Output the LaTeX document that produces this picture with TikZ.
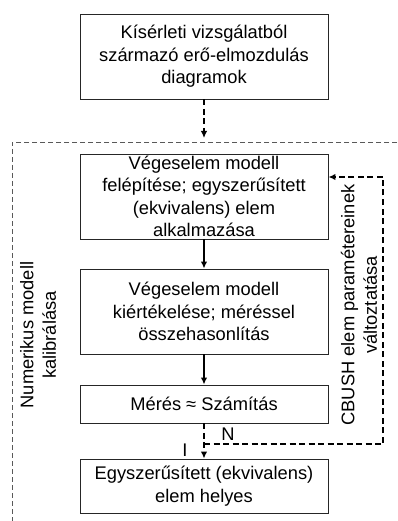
\documentclass[tikz,border=0pt]{standalone}
\usepackage{fontspec}
\setmainfont{Liberation Sans}
\usetikzlibrary{arrows.meta}
\begin{document}
\begin{tikzpicture}[x=1pt,y=-1pt,
  box/.style={draw=black!85,line width=0.9pt,minimum width=248pt,inner sep=0pt,align=center,font=\fontsize{18.3}{22.5}\selectfont},
  lbl/.style={align=center,font=\fontsize{18.3}{22.5}\selectfont,inner sep=0pt},
  thickdash/.style={line width=2.2pt,dash pattern=on 6pt off 3.5pt},
  arr/.style={-{Latex[length=7pt,width=6.5pt]}},
  frame/.style={draw=black!65,line width=0.6pt,dash pattern=on 5pt off 3pt}]
\useasboundingbox (0,0) rectangle (397,521);
\draw[frame] (397,142) -- (12,142) -- (12,521);
\node[box,minimum height=85pt] (b1) at (204,56.5) {Kísérleti vizsgálatból\\származó erő-elmozdulás\\diagramok};
\node[box,minimum height=85pt] (b2) at (204,196.5) {Végeselem modell\\felépítése; egyszerűsített\\(ekvivalens) elem\\alkalmazása};
\node[box,minimum height=85pt] (b3) at (204,311.5) {Végeselem modell\\kiértékelése; méréssel\\összehasonlítás};
\node[box,minimum height=38pt] (b4) at (204,404) {Mérés ≈ Számítás};
\node[box,minimum height=54pt] (b5) at (204,486) {Egyszerűsített (ekvivalens)\\elem helyes};
\coordinate (bt) at (204,138);
\draw[thickdash,arr] (b1.south) -- (bt);
\draw[line width=1.6pt,arr] (b2.south) -- (b3.north);
\draw[line width=1.6pt,arr] (b3.south) -- (b4.north);
\draw[thickdash,arr] (b4.south) -- (b5.north);
\coordinate (fb) at (204,444);
\coordinate (c1) at (383,444);
\coordinate (c2) at (383,177);
\draw[thickdash,arr] (fb) -- (c1) -- (c2) -- (b2.east |- c2);
\node[lbl] (n) at (228,434) {N};
\node[lbl] (i) at (185,450) {I};
\node[lbl,rotate=90] (left) at (38,335) {Numerikus modell\\kalibrálása};
\node[lbl,rotate=90] (right) at (359,305) {CBUSH elem paramétereinek\\változtatása};
\end{tikzpicture}
\end{document}
